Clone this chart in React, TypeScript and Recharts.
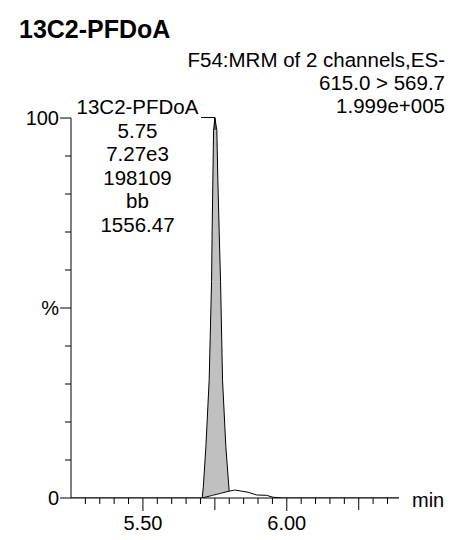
import React from "react";
import { ComposedChart, Area, Line, XAxis, YAxis } from "recharts";

// ---------------------------------------------------------------------------
// Data
// ---------------------------------------------------------------------------

const traceTime = [
  5.25, 5.6, 5.7, 5.7059, 5.71, 5.7188, 5.7302, 5.7385, 5.7406, 5.7431, 5.7455,
  5.75, 5.7569, 5.7604, 5.7649, 5.7698, 5.7767, 5.7882, 5.7997, 5.819, 5.843,
  5.866, 5.895, 5.93, 5.952, 5.986, 6.1, 6.39,
];
const traceValue = [
  0, 0, 0, 0, 3, 13.5, 31, 57, 70.5, 83.7, 96.8, 100, 96.8, 83.7, 70.5, 57, 31,
  13.5, 1.8, 2.1, 1.8, 1.5, 0.8, 0.7, 0.2, 0, 0, 0,
];

// integration baseline ("bb") under the peak
const baselineTime = [
  5.7059, 5.71, 5.7188, 5.7302, 5.7385, 5.7406, 5.7431, 5.7455, 5.75, 5.7569,
  5.7604, 5.7649, 5.7698, 5.7767, 5.7882, 5.7997,
];
const baselineValue = [
  0, 0.08, 0.25, 0.47, 0.63, 0.67, 0.71, 0.76, 0.85, 0.98, 1.04, 1.13, 1.22,
  1.36, 1.58, 1.8,
];

const xTicks = [
  5.3, 5.35, 5.4, 5.45, 5.5, 5.55, 5.6, 5.65, 5.7, 5.75, 5.8, 5.85, 5.9, 5.95,
  6.0, 6.05, 6.1, 6.15, 6.2, 6.25, 6.3, 6.35,
];
const xLabelTicks = [5.5, 6.0];
const xQuarterTicks = [5.5, 5.75, 6.0, 6.25];
const yTicks = [0, 10, 20, 30, 40, 50, 60, 70, 80, 90, 100];
const yLabels: Record<number, string> = { 0: "0", 50: "%", 100: "100" };

const title = "13C2-PFDoA";
const headerLines = ["F54:MRM of 2 channels,ES-", "615.0 > 569.7", "1.999e+005"];
const peakLines = ["13C2-PFDoA", "5.75", "7.27e3", "198109", "bb", "1556.47"];

// ---------------------------------------------------------------------------

const FONT = "'Liberation Sans', Arial, Helvetica, sans-serif";
const near = (a: number, list: number[]) => list.some((b) => Math.abs(a - b) < 1e-6);

const rows = traceTime.map((t, i) => {
  const j = baselineTime.findIndex((b) => Math.abs(b - t) < 1e-9);
  const row: Record<string, unknown> = { t, trace: traceValue[i] };
  if (j >= 0) {
    row.range = [baselineValue[j], traceValue[i]];
    row.base = baselineValue[j];
  }
  return row;
});

function XTick(props: any) {
  const { x, y, payload } = props;
  const v = payload.value as number;
  const labeled = near(v, xLabelTicks);
  const len = labeled ? 13 : near(v, xQuarterTicks) ? 12 : 6;
  return (
    <g>
      <line x1={x} y1={y} x2={x} y2={y + len} stroke="#000" strokeWidth={1} />
      {labeled && (
        <text x={x} y={y + 32} textAnchor="middle" fontSize={20} fontFamily={FONT} fill="#000">
          {v.toFixed(2)}
        </text>
      )}
    </g>
  );
}

function YTick(props: any) {
  const { x, y, payload } = props;
  const v = payload.value as number;
  const label = yLabels[v];
  const len = label !== undefined ? 11 : 6;
  return (
    <g>
      <line x1={x - len} y1={y} x2={x} y2={y} stroke="#000" strokeWidth={1} />
      {label !== undefined && (
        <text x={x - 12} y={y} dy="0.36em" textAnchor="end" fontSize={20} fontFamily={FONT} fill="#000">
          {label}
        </text>
      )}
    </g>
  );
}

export default function App() {
  return (
    <div
      style={{
        position: "absolute",
        left: 0,
        top: 0,
        width: 456,
        height: 540,
        background: "#fff",
        fontFamily: FONT,
      }}
    >
      <ComposedChart
        width={456}
        height={540}
        data={rows}
        margin={{ top: 118, right: 57, bottom: 0, left: 0 }}
      >
        <XAxis
          dataKey="t"
          type="number"
          domain={[5.25, 6.39]}
          allowDataOverflow
          ticks={xTicks}
          interval={0}
          height={42}
          tickSize={0}
          tickMargin={0}
          tick={<XTick />}
          axisLine={{ stroke: "#000", strokeWidth: 1 }}
          tickLine={false}
        />
        <YAxis
          type="number"
          domain={[0, 100]}
          allowDataOverflow
          ticks={yTicks}
          interval={0}
          width={71}
          tickSize={0}
          tickMargin={0}
          tick={<YTick />}
          axisLine={{ stroke: "#000", strokeWidth: 1 }}
          tickLine={false}
        />
        <Area
          type="linear"
          dataKey="range"
          fill="#c0c0c0"
          fillOpacity={1}
          stroke="none"
          isAnimationActive={false}
          dot={false}
          activeDot={false}
        />
        <Line
          type="linear"
          dataKey="base"
          stroke="#000"
          strokeWidth={1}
          dot={false}
          activeDot={false}
          isAnimationActive={false}
        />
        <Line
          type="linear"
          dataKey="trace"
          stroke="#000"
          strokeWidth={1}
          dot={false}
          activeDot={false}
          isAnimationActive={false}
        />
      </ComposedChart>

      <svg
        width={456}
        height={540}
        style={{ position: "absolute", left: 0, top: 0, pointerEvents: "none" }}
      >
        <text x={19} y={38} fontSize={25} fontWeight="bold" fontFamily={FONT} fill="#000">
          {title}
        </text>
        {headerLines.map((s, i) => (
          <text
            key={s}
            x={445}
            y={66.7 + i * 23}
            textAnchor="end"
            fontSize={20.5}
            fontFamily={FONT}
            fill="#000"
          >
            {s}
          </text>
        ))}
        {peakLines.map((s, i) => (
          <text
            key={s}
            x={137.5}
            y={114.3 + i * 23.5}
            textAnchor="middle"
            fontSize={20.5}
            fontFamily={FONT}
            fill="#000"
          >
            {s}
          </text>
        ))}
        <polyline
          points="201,117.5 215,117.5 215,130"
          fill="none"
          stroke="#000"
          strokeWidth={1}
        />
        <text x={412} y={507} fontSize={20} fontFamily={FONT} fill="#000">
          min
        </text>
      </svg>
    </div>
  );
}
